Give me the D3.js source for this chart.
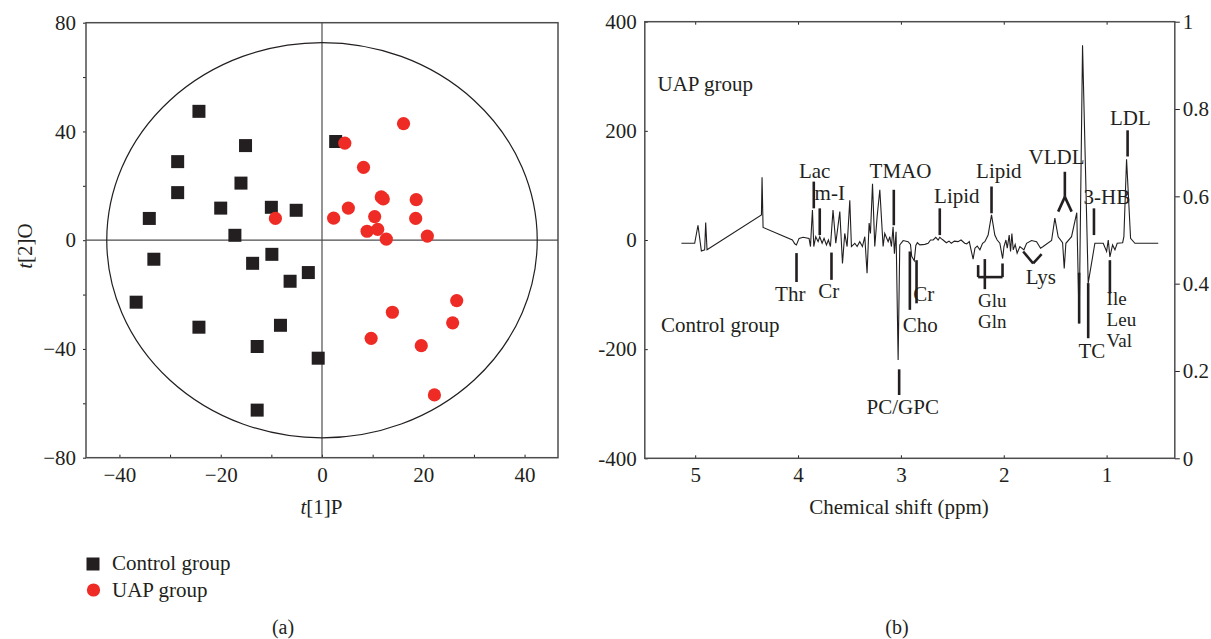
<!DOCTYPE html>
<html>
<head>
<meta charset="utf-8">
<script src="https://cdn.jsdelivr.net/npm/d3@7"></script>
<style>
  body { margin: 0; background: #fff; }
  svg text { font-family: "Liberation Serif", "Times New Roman", serif; fill: #231f20; }
  .axis path { display: none; }
  .axis line { stroke: #231f20; stroke-width: 1; }
  .axis text { font-size: 21px; }
</style>
</head>
<body>
<div id="chart"></div>
<script>
// ---------------- data ----------------
// (a) score plot, t[1]P vs t[2]O
var controlT1 = [-24.3, -15.1, -28.5, -16.0, -28.5, -20.0, -10.0, -5.1, -34.1, -17.2, 2.7,
                 -9.9, -33.2, -13.7, -2.7, -6.3, -36.7, -24.3, -8.2, -12.8, -0.75, -12.8];
var controlT2 = [47.4, 34.8, 28.9, 21.0, 17.5, 11.8, 12.1, 11.0, 8.0, 1.8, 36.3,
                 -5.2, -7.0, -8.5, -11.9, -15.1, -22.8, -32.0, -31.3, -39.1, -43.4, -62.5];
var uapT1 = [16.1, 4.5, 8.2, 11.7, 12.1, 18.6, 5.2, -9.2, 2.3, 10.4, 18.5,
             8.9, 11.0, 12.7, 20.8, 26.6, 13.9, 25.8, 9.7, 19.6, 22.2];
var uapT2 = [42.9, 35.7, 26.8, 15.9, 15.2, 14.9, 11.8, 8.0, 8.1, 8.7, 8.0,
             3.3, 4.0, 0.4, 1.5, -22.2, -26.5, -30.4, -36.1, -38.8, -56.9];
var ellipseRadii = [42.5, 72.7]; // Hotelling T2 ellipse, in t[1], t[2] units

var scoreXTicks = [-40, -20, 0, 20, 40];
var scoreXMinor = [-30, -10, 10, 30];
var scoreYTicks = [-80, -40, 0, 40, 80];
var scoreYMinor = [-60, -20, 20, 60];

// (b) loading line, chemical shift (ppm) vs coefficient
var shiftPpm = [5.134, 5.005, 4.973, 4.94, 4.908, 4.898, 4.885, 4.356, 4.35, 4.34,
  4.055, 4.032, 4.016, 3.99, 3.951, 3.893, 3.879, 3.87, 3.86, 3.847,
  3.828, 3.805, 3.789, 3.766, 3.747, 3.724, 3.705, 3.685, 3.66, 3.633,
  3.594, 3.568, 3.546, 3.523, 3.497, 3.481, 3.448, 3.426, 3.40, 3.374,
  3.351, 3.329, 3.309, 3.296, 3.276, 3.254, 3.231, 3.205, 3.173, 3.157,
  3.124, 3.108, 3.092, 3.076, 3.063, 3.047, 3.027, 3.011, 2.978, 2.93,
  2.907, 2.895, 2.87, 2.855, 2.84, 2.816, 2.767, 2.735, 2.712, 2.686,
  2.661, 2.638, 2.622, 2.605, 2.59, 2.558, 2.532, 2.51, 2.48, 2.445,
  2.415, 2.38, 2.36, 2.335, 2.318, 2.298, 2.28, 2.258, 2.232, 2.206,
  2.184, 2.152, 2.119, 2.087, 2.064, 2.038, 2.011, 1.998, 1.979, 1.966,
  1.947, 1.934, 1.921, 1.908, 1.889, 1.87, 1.843, 1.804, 1.778, 1.73,
  1.681, 1.642, 1.617, 1.535, 1.503, 1.471, 1.428, 1.412, 1.396, 1.341,
  1.29, 1.267, 1.234, 1.179, 1.114, 1.033, 1.0, 0.984, 0.968, 0.942,
  0.919, 0.897, 0.844, 0.832, 0.806, 0.767, 0.725, 0.498];
var loading = [-6, -6, 27, -20, -18, 32, -18, 46, 115, 23,
  0, -7, -9, 3, 5, 3, -12, 21, 55, -12,
  6, -3, 6, -6, 3, -9, 0, -12, 55, -6,
  52, -43, 12, -12, 73, -12, -6, -12, -3, -12,
  6, -61, 31, 12, 103, -12, 43, 92, -12, 12,
  -3, 6, -12, 24, -25, 15, -220, -9, -1, -3,
  -8, -30, -38, -10, -5, -9, -8, -6, 0, 0,
  5, 0, 5, 2, 0, -5, -2, -6, -2, -3,
  0, -6, -7, -3, -18, -35, -15, -11, -18, -6,
  -3, 9, 46, 9, 0, -6, -34, -12, 0, -15,
  9, -21, 12, -18, -8, -24, -12, -18, -6, -1,
  -3, -15, -12, -1, 40, 6, -5, -52, -6, 6,
  50, -153, 357, -79, -6, -6, -21, 0, -31, -9,
  -18, -6, -5, 6, 148, 3, -6, -6];

// metabolite marker strokes: [ppm1, value1, ppm2, value2]
var markerSegs = [
  [3.847, 58, 3.847, 107], [3.789, 9, 3.789, 58], [3.069, 27, 3.069, 92],
  [2.622, 9, 2.622, 58], [2.119, 49, 2.119, 98],
  [1.406, 79, 1.406, 125], [1.406, 79, 1.471, 52], [1.406, 79, 1.340, 52],
  [1.123, 9, 1.123, 58], [0.796, 153, 0.796, 201],
  [4.015, -24, 4.015, -77], [3.675, -23, 3.675, -73], [3.017, -237, 3.017, -284],
  [2.913, -21, 2.913, -128], [2.848, -37, 2.848, -116],
  [2.249, -46, 2.249, -68], [2.249, -68, 2.012, -68], [2.012, -68, 2.012, -43], [2.184, -35, 2.184, -90],
  [1.811, -21, 1.714, -43], [1.714, -43, 1.632, -26],
  [1.267, -60, 1.267, -153], [1.179, -79, 1.179, -180],
  [0.968, -37, 0.968, -98]
];
// labels; "|" splits stacked lines
var markerNames = ["Lac", "m-I", "TMAO", "Lipid", "Lipid", "VLDL", "3-HB", "LDL",
  "Thr", "Cr", "Cr", "Cho", "PC/GPC", "Glu|Gln", "Lys", "TC", "Ile|Leu|Val"];
var markerPpm = [3.838, 3.692, 3.004, 2.456, 2.048, 1.486, 0.997, 0.768,
  4.076, 3.701, 2.777, 2.811, 2.982, 2.111, 1.639, 1.143, 1.0];
var markerVal = [113, 73, 113, 67, 114, 139, 66, 211,
  -111, -107, -111, -168, -318, -123, -81, -217, -119];
var markerAnchor = ["middle", "middle", "middle", "middle", "middle", "middle", "middle", "middle",
  "middle", "middle", "middle", "middle", "middle", "middle", "middle", "middle", "start"];

var shiftTicks = [5, 4, 3, 2, 1];
var loadTicks = [-400, -200, 0, 200, 400];
var rightTicks = [0, 0.2, 0.4, 0.6, 0.8, 1];

// ---------------- setup ----------------
var svg = d3.select("#chart").append("svg")
  .attr("width", 1211)
  .attr("height", 639);

var ink = "#231f20";

// ========== panel (a) ==========
var xA = d3.scaleLinear().domain([-46.6, 46.6]).range([86, 558]);
var yA = d3.scaleLinear().domain([-80, 80]).range([457.7, 22.7]);

var gA = svg.append("g");

gA.append("g").attr("class", "axis")
  .attr("transform", "translate(0,457.7)")
  .call(d3.axisBottom(xA).tickValues(scoreXTicks).tickSizeInner(-3).tickSizeOuter(0).tickPadding(9));
gA.append("g").attr("class", "axis")
  .attr("transform", "translate(0,457.7)")
  .call(d3.axisBottom(xA).tickValues(scoreXMinor).tickSizeInner(-3).tickSizeOuter(0).tickFormat(""));
gA.append("g").attr("class", "axis")
  .attr("transform", "translate(86,0)")
  .call(d3.axisLeft(yA).tickValues(scoreYTicks).tickSizeInner(3).tickSizeOuter(0).tickPadding(7));
gA.append("g").attr("class", "axis")
  .attr("transform", "translate(86,0)")
  .call(d3.axisLeft(yA).tickValues(scoreYMinor).tickSizeInner(3).tickSizeOuter(0).tickFormat(""));

// zero lines
gA.append("line")
  .attr("x1", xA(0)).attr("x2", xA(0))
  .attr("y1", yA(80)).attr("y2", yA(-80))
  .attr("stroke", "#4d4d4f").attr("stroke-width", 1.2);
gA.append("line")
  .attr("x1", xA(-46.6)).attr("x2", xA(46.6))
  .attr("y1", yA(0)).attr("y2", yA(0))
  .attr("stroke", "#4d4d4f").attr("stroke-width", 1.2);

// ellipse
gA.append("ellipse")
  .attr("cx", xA(0)).attr("cy", yA(0))
  .attr("rx", xA(ellipseRadii[0]) - xA(0))
  .attr("ry", yA(0) - yA(ellipseRadii[1]))
  .attr("fill", "none").attr("stroke", ink).attr("stroke-width", 1.2);

// frame
gA.append("rect")
  .attr("x", 86).attr("y", 22.7).attr("width", 472).attr("height", 435)
  .attr("fill", "none").attr("stroke", "#4d4d4f").attr("stroke-width", 1.5);

var sq = 13;
gA.selectAll("rect.ctrl")
  .data(d3.range(controlT1.length))
  .enter().append("rect")
  .attr("class", "ctrl")
  .attr("x", i => xA(controlT1[i]) - sq / 2)
  .attr("y", i => yA(controlT2[i]) - sq / 2)
  .attr("width", sq).attr("height", sq)
  .attr("fill", ink);

gA.selectAll("circle.uap")
  .data(d3.range(uapT1.length))
  .enter().append("circle")
  .attr("class", "uap")
  .attr("cx", i => xA(uapT1[i]))
  .attr("cy", i => yA(uapT2[i]))
  .attr("r", 6.6)
  .attr("fill", "#ee2b24");

// axis titles
var tx = gA.append("text").attr("x", 321.5).attr("y", 514)
  .attr("text-anchor", "middle").attr("font-size", "21px");
tx.append("tspan").attr("font-style", "italic").text("t");
tx.append("tspan").text("[1]P");

var ty = gA.append("text")
  .attr("transform", "translate(32,246) rotate(-90)")
  .attr("text-anchor", "middle").attr("font-size", "21px");
ty.append("tspan").attr("font-style", "italic").text("t");
ty.append("tspan").text("[2]O");

// legend
gA.append("rect").attr("x", 86.5).attr("y", 557.5).attr("width", 13).attr("height", 13).attr("fill", ink);
gA.append("text").attr("x", 112).attr("y", 570).attr("font-size", "21px").text("Control group");
gA.append("circle").attr("cx", 93.5).attr("cy", 590).attr("r", 6.6).attr("fill", "#ee2b24");
gA.append("text").attr("x", 112).attr("y", 597).attr("font-size", "21px").text("UAP group");

gA.append("text").attr("x", 283).attr("y", 634).attr("text-anchor", "middle")
  .attr("font-size", "20px").text("(a)");

// ========== panel (b) ==========
var xB = d3.scaleLinear().domain([5.49, 0.337]).range([644.8, 1174.8]);
var yB = d3.scaleLinear().domain([-400, 400]).range([458.3, 21.7]);
var yR = d3.scaleLinear().domain([0, 1]).range([458.3, 21.7]);

var gB = svg.append("g");

gB.append("g").attr("class", "axis")
  .attr("transform", "translate(0,458.3)")
  .call(d3.axisBottom(xB).tickValues(shiftTicks).tickSizeInner(-3).tickSizeOuter(0).tickPadding(9)
    .tickFormat(d3.format("d")));
gB.append("g").attr("class", "axis")
  .attr("transform", "translate(0,21.7)")
  .call(d3.axisTop(xB).tickValues(shiftTicks).tickSizeInner(-3).tickSizeOuter(0).tickFormat(""));
gB.append("g").attr("class", "axis")
  .attr("transform", "translate(644.8,0)")
  .call(d3.axisLeft(yB).tickValues(loadTicks).tickSizeInner(-3).tickSizeOuter(0).tickPadding(8)
    .tickFormat(d => String(d)));
gB.append("g").attr("class", "axis")
  .attr("transform", "translate(1174.8,0)")
  .call(d3.axisRight(yR).tickValues(rightTicks).tickSizeInner(5).tickSizeOuter(0).tickPadding(3)
    .tickFormat(d => d === 0 || d === 1 ? String(d) : d3.format(".1f")(d)));

gB.append("rect")
  .attr("x", 644.8).attr("y", 21.7).attr("width", 530).attr("height", 436.6)
  .attr("fill", "none").attr("stroke", "#4d4d4f").attr("stroke-width", 1.5);

// metabolite labels (stacked names: slightly smaller, one text element)
gB.selectAll("text.met")
  .data(d3.range(markerNames.length))
  .enter().append("text")
  .attr("class", "met")
  .attr("y", i => yB(markerVal[i]))
  .attr("text-anchor", i => markerAnchor[i])
  .attr("font-size", i => markerNames[i].indexOf("|") >= 0 ? "19px" : "21px")
  .each(function(i) {
    var t = d3.select(this);
    markerNames[i].split("|").forEach(function(s, k) {
      t.append("tspan")
        .attr("x", xB(markerPpm[i]))
        .attr("dy", k === 0 ? 0 : 21)
        .text(s);
    });
  });

// loading line
var line = d3.line()
  .x(i => xB(shiftPpm[i]))
  .y(i => yB(loading[i]));
gB.append("path")
  .datum(d3.range(shiftPpm.length))
  .attr("d", line)
  .attr("fill", "none")
  .attr("stroke", ink)
  .attr("stroke-width", 1.1)
  .attr("stroke-linejoin", "miter");

// marker strokes
gB.selectAll("line.mk")
  .data(markerSegs)
  .enter().append("line")
  .attr("class", "mk")
  .attr("x1", d => xB(d[0])).attr("y1", d => yB(d[1]))
  .attr("x2", d => xB(d[2])).attr("y2", d => yB(d[3]))
  .attr("stroke", ink).attr("stroke-width", 2.6);

gB.append("text").attr("x", 657.5).attr("y", 90.7).attr("font-size", "21px").text("UAP group");
gB.append("text").attr("x", 661).attr("y", 331.7).attr("font-size", "21px").text("Control group");

gB.append("text").attr("x", 899).attr("y", 514).attr("text-anchor", "middle")
  .attr("font-size", "21px").text("Chemical shift (ppm)");

gB.append("text").attr("x", 897).attr("y", 634).attr("text-anchor", "middle")
  .attr("font-size", "20px").text("(b)");
</script>
</body>
</html>
